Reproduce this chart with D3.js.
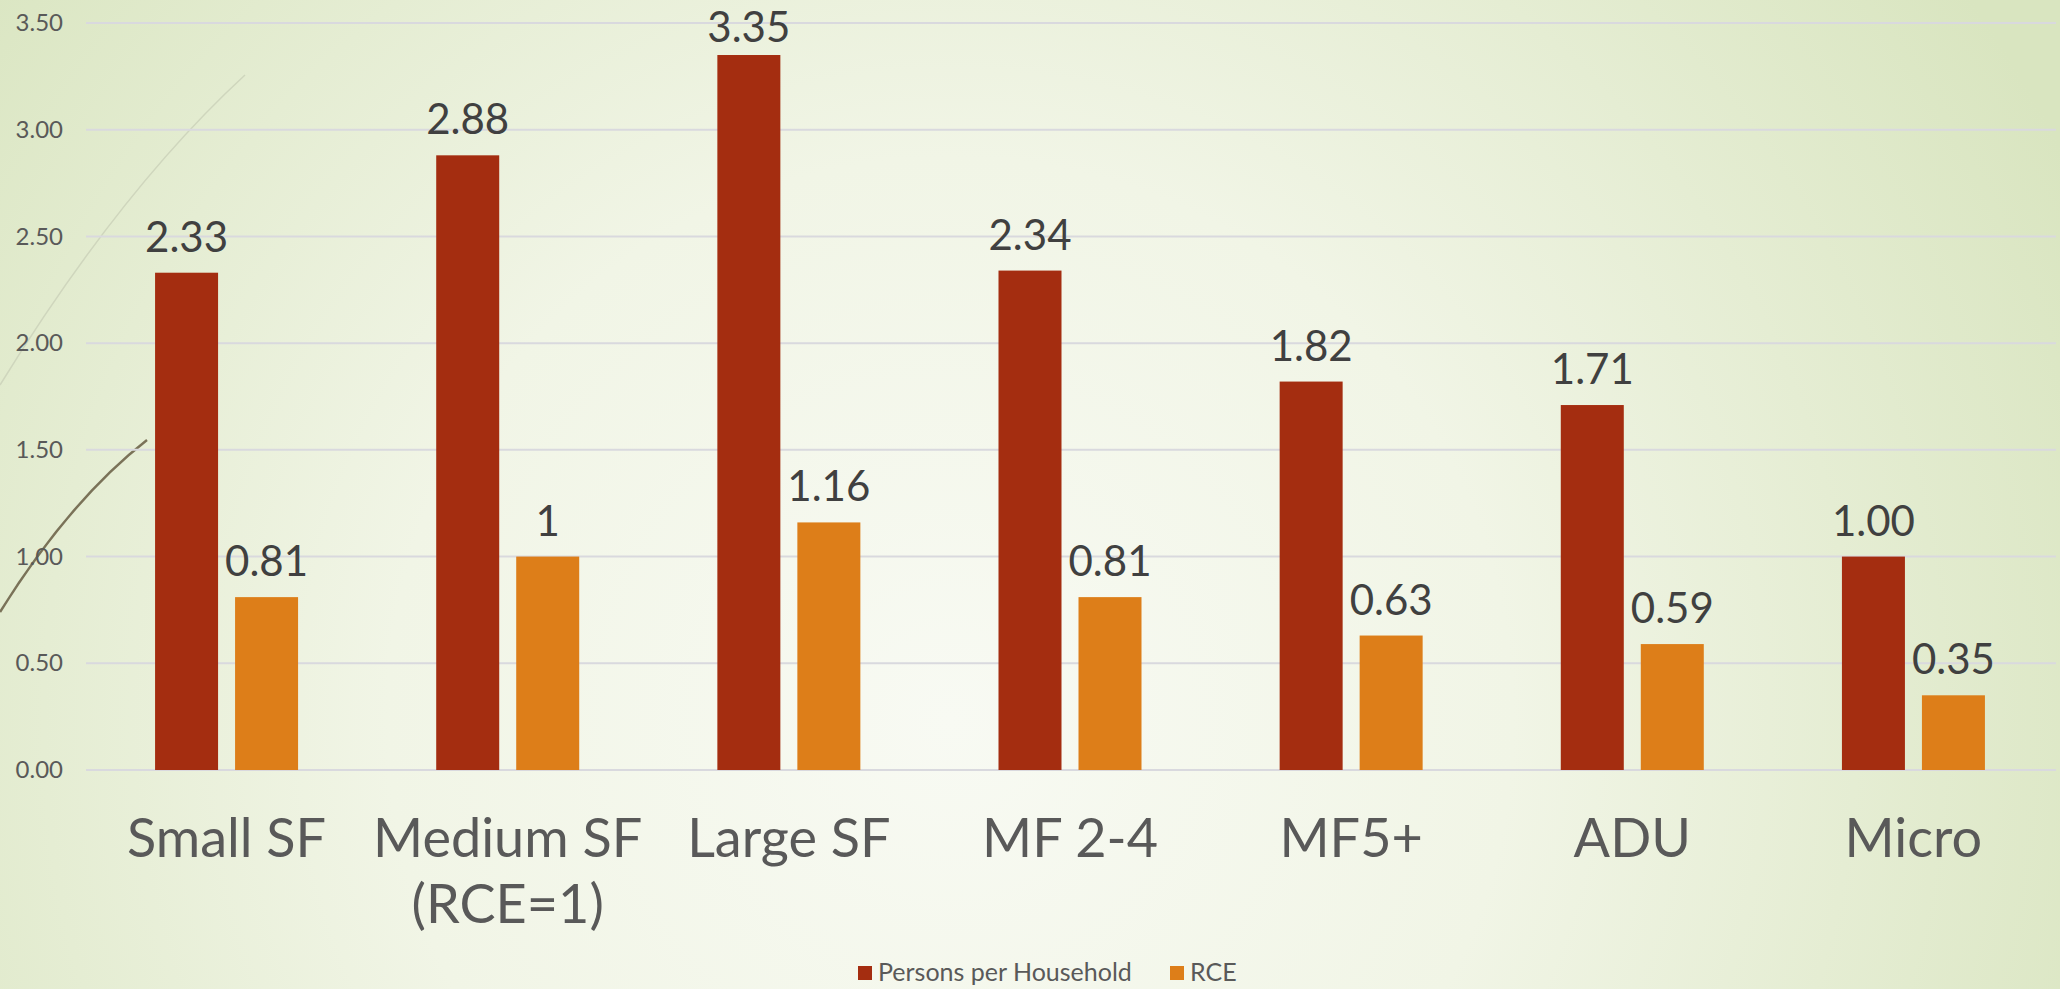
<!DOCTYPE html>
<html>
<head>
<meta charset="utf-8">
<script src="https://cdn.jsdelivr.net/npm/d3@7"></script>
<style>
  body { margin: 0; overflow: hidden; }
  svg { display: block; font-family: "Lato", "DejaVu Sans", sans-serif; }
</style>
</head>
<body>
<script>
var w = 2060;
var h = 989;

var categories = ["Small SF", "Medium SF\n(RCE=1)", "Large SF", "MF 2-4", "MF5+", "ADU", "Micro"];
var persons = [2.33, 2.88, 3.35, 2.34, 1.82, 1.71, 1.00];
var rce = [0.81, 1, 1.16, 0.81, 0.63, 0.59, 0.35];
var personsLabels = ["2.33", "2.88", "3.35", "2.34", "1.82", "1.71", "1.00"];
var rceLabels = ["0.81", "1", "1.16", "0.81", "0.63", "0.59", "0.35"];
var seriesNames = ["Persons per Household", "RCE"];
var yTicks = [0, 0.5, 1, 1.5, 2, 2.5, 3, 3.5];

var colors = ["#a42d10", "#dd7e19"];

var svg = d3.select("body")
        .append("svg")
        .attr("width", w)
        .attr("height", h);

// background
var defs = svg.append("defs");
var grad = defs.append("radialGradient")
        .attr("id", "bg")
        .attr("gradientUnits", "userSpaceOnUse")
        .attr("cx", 950).attr("cy", 720).attr("r", 1250);
grad.append("stop").attr("offset", "0%").attr("stop-color", "#f8faf3");
grad.append("stop").attr("offset", "45%").attr("stop-color", "#f1f5e6");
grad.append("stop").attr("offset", "100%").attr("stop-color", "#d9e5c0");

svg.append("rect")
    .attr("width", w)
    .attr("height", h)
    .attr("fill", "url(#bg)");

// decorative curves top left
svg.append("path")
    .attr("d", "M245,75 Q120,190 0,385")
    .attr("fill", "none")
    .attr("stroke", "#cfd6bd")
    .attr("stroke-width", 1.5);
svg.append("path")
    .attr("d", "M147,440 Q70,500 0,612")
    .attr("fill", "none")
    .attr("stroke", "#7a7258")
    .attr("stroke-width", 2.5);

var x0 = d3.scaleBand()
        .domain(d3.range(categories.length))
        .range([86, 2054]);

var barW = 63;
var gap = 17;

var y = d3.scaleLinear()
        .domain([0, 3.5])
        .range([770, 23]);

// gridlines
svg.append("g")
    .selectAll("line")
    .data(yTicks)
    .enter()
    .append("line")
    .attr("x1", 86)
    .attr("x2", 2056)
    .attr("y1", function(d) { return y(d); })
    .attr("y2", function(d) { return y(d); })
    .attr("stroke", "#d9d9de")
    .attr("stroke-width", 2);

// y axis labels
var yAxis = d3.axisLeft(y)
        .tickValues(yTicks)
        .tickFormat(d3.format(".2f"))
        .tickSize(0)
        .tickPadding(0);

var ya = svg.append("g")
        .attr("transform", "translate(63,0)")
        .call(yAxis);
ya.select(".domain").remove();
ya.selectAll("text")
    .attr("font-size", 24)
    .attr("font-family", "Lato, sans-serif")
    .attr("fill", "#595959");

var series = [persons, rce];
var seriesLabels = [personsLabels, rceLabels];

function barX(i, s) {
    var c = x0(i) + x0.bandwidth() / 2;
    return s === 0 ? c - gap / 2 - barW : c + gap / 2;
}

series.forEach(function(vals, s) {
    var g = svg.append("g");
    g.selectAll("rect")
        .data(vals)
        .enter()
        .append("rect")
        .attr("x", function(d, i) { return barX(i, s); })
        .attr("y", function(d) { return y(d); })
        .attr("width", barW)
        .attr("height", function(d) { return y(0) - y(d); })
        .attr("fill", colors[s]);

    g.selectAll("text")
        .data(vals)
        .enter()
        .append("text")
        .attr("x", function(d, i) { return barX(i, s) + barW / 2; })
        .attr("y", function(d) { return Math.max(y(d) - 21, 42); })
        .attr("text-anchor", "middle")
        .attr("font-size", 42)
        .attr("fill", "#404040")
        .text(function(d, i) { return seriesLabels[s][i]; });
});

// category labels
var cat = svg.append("g")
        .selectAll("text")
        .data(categories)
        .enter()
        .append("text")
        .attr("x", function(d, i) { return x0(i) + x0.bandwidth() / 2; })
        .attr("y", 857)
        .attr("text-anchor", "middle")
        .attr("font-size", 54)
        .attr("fill", "#595959");

cat.selectAll("tspan")
    .data(function(d) { return d.split("\n"); })
    .enter()
    .append("tspan")
    .attr("x", function() { return d3.select(this.parentNode).attr("x"); })
    .attr("dy", function(d, i) { return i === 0 ? 0 : 66; })
    .text(function(d) { return d; });

// legend
var legendX = [858, 1170];
var legend = svg.append("g")
        .selectAll("g")
        .data(seriesNames)
        .enter()
        .append("g")
        .attr("transform", function(d, i) { return "translate(" + legendX[i] + ",966)"; });

legend.append("rect")
    .attr("width", 14)
    .attr("height", 14)
    .attr("fill", function(d, i) { return colors[i]; });

legend.append("text")
    .attr("x", 20)
    .attr("y", 15)
    .attr("font-size", 25)
    .attr("fill", "#595959")
    .text(function(d) { return d; });
</script>
</body>
</html>
